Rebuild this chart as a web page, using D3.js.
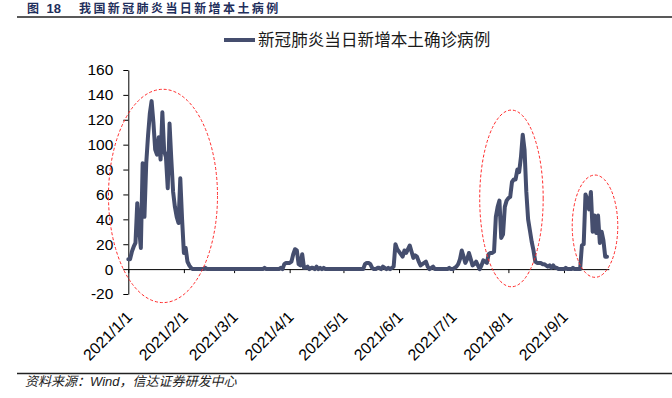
<!DOCTYPE html>
<html><head><meta charset="utf-8">
<script src="https://cdn.jsdelivr.net/npm/d3@7/dist/d3.min.js"></script>
<style>html,body{margin:0;padding:0;background:#fff}svg{display:block}</style>
</head><body>
<script>
// ---------------- data ----------------
const startDate = "2021-01-01";
const jan = [8,8,14,18,21,53,33,17,85,42,85,107,125,135,118,96,92,106,88,126,95,90,65,117,88,62,50,42,37,73,40];
const feb = [13,17,6,3,1,0,0,0,0,0,0,0,1,0,0,0,0,0,0,0,0,0,0,0,0,0,0,0];
const mar = [0,0,0,0,0,0,0,0,0,0,0,0,0,0,0,0,0,1,0,0,0,0,0,0,0,0,1,0,4,5,5];
const apr = [5,6,12,16,15,4,3,12,1,1,2,0,1,1,0,2,0,1,0,1,0,0,0,0,0,0,0,0,0,0];
const may = [0,0,0,0,0,0,0,0,0,0,0,0,4,5,5,4,1,0,0,1,1,0,2,1,0,1,0,1,2,20,16];
const jun = [14,12,10,15,13,16,19,14,9,11,10,6,3,4,5,6,2,0,1,2,0,0,0,0,0,0,0,0,1,0];
const jul = [0,1,2,4,8,15,10,5,8,13,8,3,4,6,3,0,3,7,6,5,12,13,13,14,42,50,55,25,28,50,55];
const aug = [57,58,70,72,72,80,78,90,108,96,62,40,31,22,15,6,5,5,5,4,4,3,2,3,1,3,1,1,0,0,0];
const sep = [0,1,0,0,0,1,0,0,0,0,19,20,60,56,48,62,30,43,29,43,21,30,23,10,10];
const dailyCases = [].concat(jan, feb, mar, apr, may, jun, jul, aug, sep);

const xTickDates  = ["2021-01-01","2021-02-01","2021-03-01","2021-04-01","2021-05-01","2021-06-01","2021-07-01","2021-08-01","2021-09-01"];
const xTickLabels = ["2021/1/1","2021/2/1","2021/3/1","2021/4/1","2021/5/1","2021/6/1","2021/7/1","2021/8/1","2021/9/1"];
const yTicks = [-20,0,20,40,60,80,100,120,140,160];

const seriesName  = "新冠肺炎当日新增本土确诊病例";
const figNo       = "图";
const figNum      = "18";
const figTitle    = "我国新冠肺炎当日新增本土病例";
const sourceNote  = "资料来源：Wind，信达证券研发中心";

// highlighted outbreak episodes (data space): centre day offset, centre value, half-span days, half-span value
const hlCenterDay   = [19.35, 213.7, 260.3];
const hlCenterValue = [58.8, 56.8, 34.5];
const hlHalfDays    = [30.4, 17.7, 12.7];
const hlHalfValue   = [85.7, 71.0, 41.1];

// ---------------- chart ----------------
const W = 672, H = 398;
const parse = d3.utcParse("%Y-%m-%d");
const t0 = parse(startDate);
const dates = dailyCases.map((_, i) => d3.utcDay.offset(t0, i));

const x = d3.scaleUtc().domain([t0, d3.utcDay.offset(t0, 268)]).range([128.3, 608.8]);
const y = d3.scaleLinear().domain([-20, 160]).range([294, 70]);
const dayX = d => x(new Date(t0.getTime() + d * 864e5));

const svg = d3.select("body").append("svg").attr("width", W).attr("height", H)
  .style("font-family", "'Liberation Sans', Arial, 'Noto Sans CJK SC', sans-serif");

// header
svg.append("text").attr("x", 27).attr("y", 13).attr("font-size", 12).attr("font-weight", "bold")
  .attr("fill", "#1f2f5c").style("font-family", "'Noto Sans CJK SC', sans-serif").text(figNo);
svg.append("text").attr("x", 46.5).attr("y", 13).attr("font-size", 13).attr("font-weight", "bold")
  .attr("fill", "#1f2f5c").style("font-family", "'Liberation Sans', Arial, sans-serif").text(figNum);
svg.append("text").attr("x", 79).attr("y", 13).attr("font-size", 12).attr("font-weight", "bold")
  .attr("letter-spacing", 2.4).attr("fill", "#1f2f5c")
  .style("font-family", "'Noto Sans CJK SC', sans-serif").text(figTitle);
svg.append("line").attr("x1", 17).attr("x2", W).attr("y1", 17).attr("y2", 17)
  .attr("stroke", "#222").attr("stroke-width", 1.6);

// legend
svg.append("line").attr("x1", 224).attr("x2", 255).attr("y1", 40).attr("y2", 40)
  .attr("stroke", "#454e6e").attr("stroke-width", 4);
svg.append("text").attr("x", 258).attr("y", 40).attr("dy", "0.36em").attr("font-size", 16.6)
  .attr("fill", "#1a1a1a").style("font-family", "'Noto Sans CJK SC', sans-serif").text(seriesName);

// y axis
const yAxis = svg.append("g").attr("transform", `translate(${x.range()[0]},0)`)
  .call(d3.axisLeft(y).tickValues(yTicks).tickSize(5).tickSizeOuter(0).tickPadding(10).tickFormat(d => String(d)));
yAxis.select(".domain").attr("stroke", "#000");
yAxis.selectAll(".tick line").attr("stroke", "#000");
yAxis.selectAll("text").attr("font-size", 15.5).attr("fill", "#000")
  .style("font-family", "'Liberation Sans', Arial, sans-serif");

// x axis on zero line
const tickDates = xTickDates.map(parse);
const xAxis = svg.append("g").attr("transform", `translate(0,${y(0)})`)
  .call(d3.axisBottom(x).tickValues(tickDates).tickSize(4).tickSizeOuter(0).tickFormat(""));
xAxis.select(".domain").attr("stroke", "#000");
xAxis.selectAll(".tick line").attr("stroke", "#000");

// x labels (rotated, at bottom of plot)
svg.append("g").selectAll("text").data(tickDates).join("text")
  .attr("transform", (d, i) => `translate(${x(d) + 5},318) rotate(-45)`)
  .attr("text-anchor", "end").attr("font-size", 15.8).attr("fill", "#000")
  .style("font-family", "'Liberation Sans', Arial, sans-serif")
  .text((d, i) => xTickLabels[i]);

// data line
const line = d3.line().x((d, i) => x(dates[i])).y(d => y(d));
svg.append("path").datum(dailyCases).attr("d", line).attr("fill", "none")
  .attr("stroke", "#454e6e").attr("stroke-width", 4)
  .attr("stroke-linejoin", "round").attr("stroke-linecap", "round");

// highlight ellipses
svg.append("g").selectAll("ellipse").data(hlCenterDay).join("ellipse")
  .attr("cx", (d) => dayX(d))
  .attr("cy", (d, i) => y(hlCenterValue[i]))
  .attr("rx", (d, i) => dayX(d + hlHalfDays[i]) - dayX(d))
  .attr("ry", (d, i) => y(0) - y(hlHalfValue[i]))
  .attr("fill", "none").attr("stroke", "#ff2a2a").attr("stroke-width", 1)
  .attr("stroke-dasharray", "3,2");

// footer
svg.append("line").attr("x1", 17).attr("x2", W).attr("y1", 373.5).attr("y2", 373.5)
  .attr("stroke", "#222").attr("stroke-width", 1.3);
svg.append("text").attr("x", 25).attr("y", 386).attr("font-size", 13).attr("font-style", "italic")
  .attr("fill", "#222").style("font-family", "'Liberation Sans', 'Noto Sans CJK SC', sans-serif")
  .text(sourceNote);
</script>
</body></html>
